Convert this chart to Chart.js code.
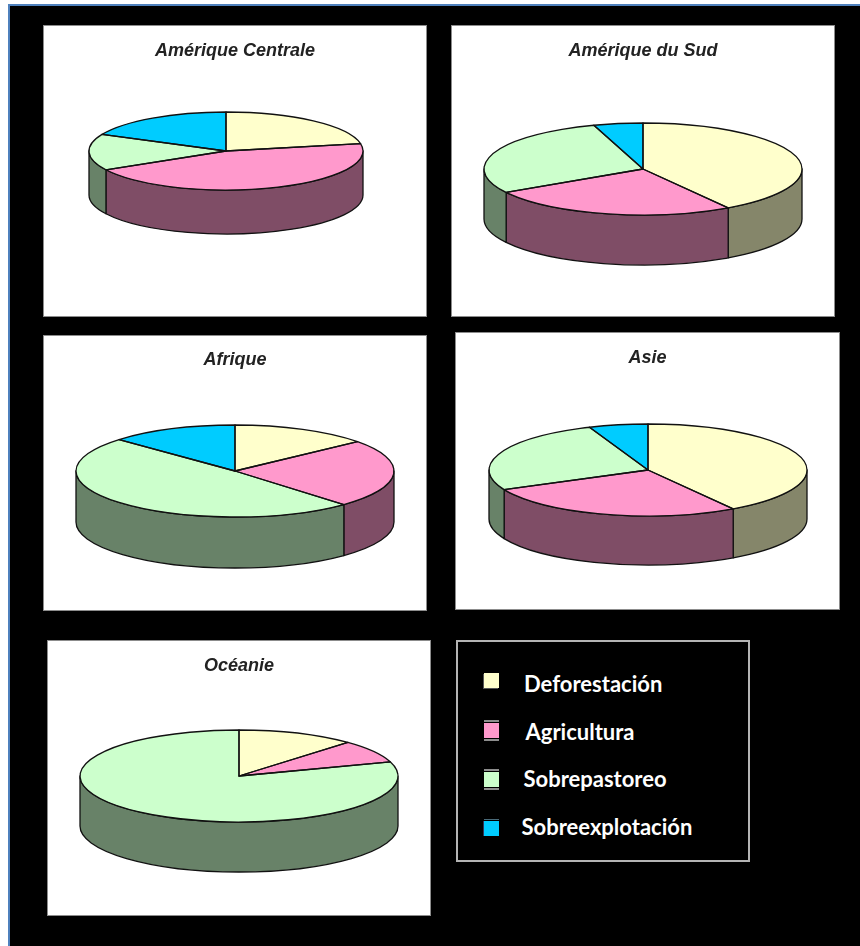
<!DOCTYPE html>
<html lang="fr">
<head>
<meta charset="utf-8">
<title>Causes de la dégradation des sols par continent</title>
<script src="https://cdn.jsdelivr.net/npm/chart.js@4/dist/chart.umd.js"></script>
<style>
  html, body { margin: 0; padding: 0; background: #fff; width: 860px; height: 946px; overflow: hidden; }
  #stage { position: absolute; left: 8px; top: 4px; width: 852px; height: 942px; box-sizing: border-box;
           background: #000; border-left: 2px solid #4f81bd; border-top: 2px solid #4f81bd; }
  .panel { position: absolute; background: #fff; box-shadow: 0 0 0 1px #8c8c8c; }
  .panel canvas { position: absolute; left: 0; top: 0; }
  #legend { position: absolute; left: 456px; top: 640px; width: 294px; height: 222px; box-sizing: border-box;
            border: 2px solid #b4b4b4; background: #000; }
  .swatch { position: absolute; width: 15px; height: 15px; }
  .entry { position: absolute; color: #fff; font: bold 22px Lato, sans-serif; line-height: 24px; white-space: nowrap; }
</style>
</head>
<body>
<div id="stage"></div>
<div id="charts"></div>
<div id="legend"></div>
<script>
// Share of each cause, in percent, per continent
const causes = ['Deforestación', 'Agricultura', 'Sobrepastoreo', 'Sobreexplotación'];
const ameriqueCentrale = [22, 45, 15, 18];
const ameriqueDuSud = [41, 25.5, 28.5, 5];
const afrique = [14, 24, 49, 13];
const asie = [41, 27, 26, 6];
const oceanie = [12, 8, 80, 0];

// Slice colours: top face and the darker side wall
const topColors = ['#ffffcc', '#ff99cc', '#ccffcc', '#00ccff'];
const wallColors = ['#85866a', '#7f4d66', '#688268', '#006680'];

// Panel rectangles (page px) and pie geometry relative to each panel
const panels = [
  { title: 'Amérique Centrale', values: ameriqueCentrale, x: 44,  y: 26,  w: 382, h: 290, cx: 182, cy: 125, rx: 137, ry: 39, depth: 44, titleY: 25 },
  { title: 'Amérique du Sud',   values: ameriqueDuSud,    x: 452, y: 26,  w: 382, h: 290, cx: 191, cy: 143, rx: 159, ry: 46, depth: 50, titleY: 25 },
  { title: 'Afrique',           values: afrique,          x: 44,  y: 336, w: 382, h: 274, cx: 191, cy: 135, rx: 159, ry: 46, depth: 51, titleY: 24 },
  { title: 'Asie',              values: asie,             x: 456, y: 333, w: 383, h: 276, cx: 192, cy: 137, rx: 159, ry: 46, depth: 49, titleY: 25 },
  { title: 'Océanie',           values: oceanie,          x: 48,  y: 641, w: 382, h: 274, cx: 191, cy: 135, rx: 159, ry: 46, depth: 50, titleY: 25 }
];

// Legend rows inside the framed box (page px)
const legendRows = [
  { swatchY: 673, textX: 524,   textY: 684 },
  { swatchY: 723, textX: 525.5, textY: 732 },
  { swatchY: 772, textX: 523.5, textY: 779 },
  { swatchY: 821, textX: 521.5, textY: 827 }
];
const swatchShadows = [
  '-1px 1px 0 0 #555',
  '0 -1px 0 0 #000, 0 -3px 0 0 #8d8d8d, 0 1px 0 0 #000, 0 3px 0 0 #8d8d8d',
  '0 -1px 0 0 #000, 0 -3px 0 0 #8d8d8d, 0 1px 0 0 #000, 0 3px 0 0 #8d8d8d',
  '0 -1px 0 0 #000, 0 -2px 0 0 #4a6a78, 0 1px 0 0 #000, -1px 0 0 0 #335'
];

const outlineWidth = 1.3;
const outlineColor = '#111';

// Tilts the flat pie into an ellipse and adds the extruded wall below its front half
const tiltedPie = {
  id: 'tiltedPie',
  // Titles stay centred on the panel even when the pie sits off-centre
  afterLayout(chart) {
    chart.titleBlock.left = 0;
    chart.titleBlock.right = chart.width;
  },
  beforeDatasetsDraw(chart, args, opts) {
    const { ctx } = chart;
    const arcs = chart.getDatasetMeta(0).data;
    const { x: cx, y: cy, outerRadius: rx } = arcs[0];
    const ry = rx * opts.squash;
    ctx.save();
    ctx.lineWidth = outlineWidth;
    ctx.strokeStyle = outlineColor;
    ctx.lineJoin = 'round';
    arcs.forEach((arc, i) => {
      const a = Math.max(arc.startAngle, 0);
      const b = Math.min(arc.endAngle, Math.PI);
      if (b <= a) return;
      ctx.beginPath();
      ctx.ellipse(cx, cy, rx, ry, 0, a, b);
      ctx.ellipse(cx, cy + opts.depth, rx, ry, 0, b, a, true);
      ctx.closePath();
      ctx.fillStyle = wallColors[i];
      ctx.fill();
      ctx.stroke();
    });
    ctx.restore();

    // The library paints the slices under this squash
    ctx.save();
    ctx.translate(cx, cy);
    ctx.scale(1, opts.squash);
    ctx.translate(-cx, -cy);
  },
  afterDatasetsDraw(chart, args, opts) {
    const { ctx } = chart;
    ctx.restore();
    const arcs = chart.getDatasetMeta(0).data;
    const { x: cx, y: cy, outerRadius: rx } = arcs[0];
    const ry = rx * opts.squash;
    ctx.save();
    ctx.lineWidth = outlineWidth;
    ctx.strokeStyle = outlineColor;
    ctx.lineJoin = 'round';
    arcs.forEach(arc => {
      if (arc.endAngle - arc.startAngle <= 0) return;
      ctx.beginPath();
      ctx.moveTo(cx, cy);
      ctx.ellipse(cx, cy, rx, ry, 0, arc.startAngle, arc.endAngle);
      ctx.closePath();
      ctx.stroke();
    });
    ctx.restore();
  }
};

const chartsHost = document.getElementById('charts');
panels.forEach(p => {
  const box = document.createElement('div');
  box.className = 'panel';
  box.style.cssText = `left:${p.x}px;top:${p.y}px;width:${p.w}px;height:${p.h}px`;
  const canvas = document.createElement('canvas');
  canvas.width = p.w;
  canvas.height = p.h;
  box.appendChild(canvas);
  chartsHost.appendChild(box);

  const titleSize = 18;
  const titleHeight = titleSize * 1.2;
  const areaTop = p.titleY + titleHeight / 2;
  new Chart(canvas, {
    type: 'pie',
    plugins: [tiltedPie],
    data: {
      labels: causes,
      datasets: [{
        data: p.values,
        backgroundColor: topColors,
        borderWidth: 0,
        clip: false
      }]
    },
    options: {
      responsive: false,
      animation: false,
      devicePixelRatio: 1,
      radius: p.rx,
      layout: {
        padding: {
          left: Math.max(0, 2 * p.cx - p.w),
          right: Math.max(0, p.w - 2 * p.cx),
          top: 0,
          bottom: p.h - 2 * p.cy + areaTop
        }
      },
      plugins: {
        legend: { display: false },
        tooltip: { enabled: false },
        tiltedPie: { squash: p.ry / p.rx, depth: p.depth },
        title: {
          display: true,
          text: p.title,
          color: '#222',
          font: { family: '"Liberation Sans", Arial, sans-serif', size: titleSize, weight: 'bold', style: 'italic', lineHeight: 1.2 },
          padding: { top: p.titleY - titleHeight / 2, bottom: 0 }
        }
      }
    }
  });
});

// Shared legend, placed in the free cell of the grid
const legend = document.getElementById('legend');
const legendLeft = 456 + 2, legendTop = 640 + 2;
causes.forEach((name, i) => {
  const row = legendRows[i];
  const swatch = document.createElement('div');
  swatch.className = 'swatch';
  swatch.style.cssText = `left:${484 - legendLeft}px;top:${row.swatchY - legendTop}px;background:${topColors[i]};box-shadow:${swatchShadows[i]}`;
  const label = document.createElement('div');
  label.className = 'entry';
  label.textContent = name;
  label.style.cssText = `left:${row.textX - legendLeft}px;top:${row.textY - legendTop - 12}px`;
  legend.appendChild(swatch);
  legend.appendChild(label);
});
</script>
</body>
</html>
